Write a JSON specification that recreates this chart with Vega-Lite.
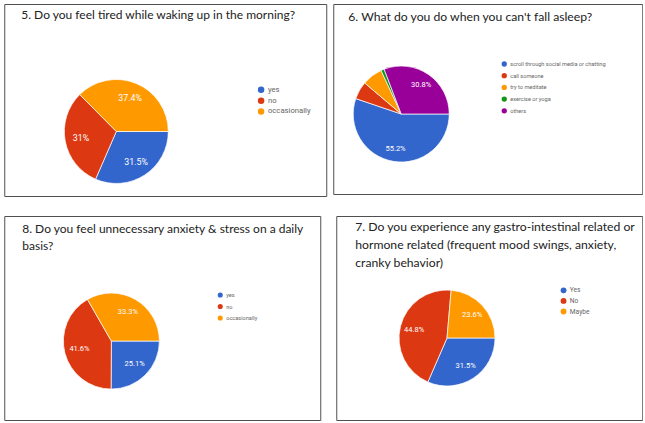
{
  "$schema": "https://vega.github.io/schema/vega-lite/v6.json",
  "background": "white",
  "padding": {"left": 3, "top": 3, "right": 0, "bottom": 0},
  "config": {
    "view": {"stroke": "#505050", "strokeWidth": 1},
    "title": {"anchor": "start", "frame": "group", "font": "Lato", "fontSize": 12, "fontWeight": "normal", "color": "#222222", "baseline": "alphabetic"},
    "legend": {"orient": "none", "title": null, "padding": 0, "symbolType": "circle", "symbolSize": 40, "symbolStrokeWidth": 0, "labelFont": "Roboto", "labelFontSize": 6.5, "labelColor": "#666666", "labelOffset": 3},
    "text": {"font": "Roboto", "fontSize": 7.5}
  },
  "vconcat": [
    {
      "hconcat": [
        {
          "width": 322, "height": 192,
          "title": {"text": "5. Do you feel  tired while waking up in the morning?", "offset": -18, "dx": 17},
          "data": {"values": [
            {"answer": "yes", "pct": 31.5, "k": 1},
            {"answer": "no", "pct": 31, "k": 2},
            {"answer": "occasionally", "pct": 37.4, "k": 3}
          ]},
          "transform": [{"calculate": "datum.pct + '%'", "as": "label"}],
          "encoding": {
            "x": {"datum": 0.348, "type": "quantitative", "scale": {"domain": [0, 1]}, "axis": null},
            "y": {"datum": 0.664, "type": "quantitative", "scale": {"domain": [0, 1], "reverse": true}, "axis": null},
            "theta": {"field": "pct", "type": "quantitative", "stack": true, "scale": {"range": [1.5708, 7.854]}},
            "order": {"field": "k", "type": "ordinal"}
          },
          "layer": [
            {"mark": {"type": "arc", "outerRadius": 52, "stroke": "white", "strokeWidth": 0.7},
             "encoding": {"color": {"field": "answer", "type": "nominal", "scale": {"domain": ["yes", "no", "occasionally"], "range": ["#3366cc", "#dc3912", "#ff9900"]}, "legend": {"legendX": 253, "legendY": 82, "rowPadding": 1.8, "labelFontSize": 7.7, "symbolSize": 42}}}},
            {"mark": {"type": "text", "radius": 36, "fill": "white", "fontSize": 8.8},
             "encoding": {"detail": {"field": "answer"}, "text": {"field": "label"}}}
          ]
        },
        {
          "width": 309, "height": 190,
          "title": {"text": "6. What do you do when  you can't fall asleep?", "offset": -19, "dx": 15, "fontSize": 12.2},
          "data": {"values": [
            {"answer": "scroll through social media or chatting", "pct": 55.2, "k": 1},
            {"answer": "call someone", "pct": 6.0, "k": 2},
            {"answer": "try to meditate", "pct": 6.9, "k": 3},
            {"answer": "exercise or yoga", "pct": 1.1, "k": 4},
            {"answer": "others", "pct": 30.8, "k": 5}
          ]},
          "transform": [{"calculate": "datum.pct + '%'", "as": "label"}],
          "encoding": {
            "x": {"datum": 0.22, "type": "quantitative", "scale": {"domain": [0, 1]}, "axis": null},
            "y": {"datum": 0.579, "type": "quantitative", "scale": {"domain": [0, 1], "reverse": true}, "axis": null},
            "theta": {"field": "pct", "type": "quantitative", "stack": true, "scale": {"range": [1.5708, 7.854]}},
            "order": {"field": "k", "type": "ordinal"}
          },
          "layer": [
            {"mark": {"type": "arc", "outerRadius": 48, "stroke": "white", "strokeWidth": 0.7},
             "encoding": {"color": {"field": "answer", "type": "nominal", "scale": {"domain": ["scroll through social media or chatting", "call someone", "try to meditate", "exercise or yoga", "others"], "range": ["#3366cc", "#dc3912", "#ff9900", "#109618", "#990099"]}, "legend": {"legendX": 168, "legendY": 57, "rowPadding": 4.7, "labelFontSize": 5.6, "symbolSize": 28}}}},
            {"mark": {"type": "text", "radius": 35, "fill": "white"},
             "encoding": {"detail": {"field": "answer"}, "text": {"condition": {"test": "datum.pct > 10", "field": "label"}, "value": ""}}}
          ]
        }
      ],
      "spacing": 5,
      "resolve": {"scale": {"color": "independent", "theta": "independent", "x": "independent", "y": "independent"}, "legend": {"color": "independent"}}
    },
    {
      "hconcat": [
        {
          "width": 316, "height": 204,
          "title": {"text": ["8. Do you feel unnecessary anxiety & stress on a daily", "basis?"], "offset": -37.3, "dx": 18, "lineHeight": 17.6},
          "data": {"values": [
            {"answer": "yes", "pct": 25.1, "k": 1},
            {"answer": "no", "pct": 41.6, "k": 2},
            {"answer": "occasionally", "pct": 33.3, "k": 3}
          ]},
          "transform": [{"calculate": "datum.pct + '%'", "as": "label"}],
          "encoding": {
            "x": {"datum": 0.339, "type": "quantitative", "scale": {"domain": [0, 1]}, "axis": null},
            "y": {"datum": 0.613, "type": "quantitative", "scale": {"domain": [0, 1], "reverse": true}, "axis": null},
            "theta": {"field": "pct", "type": "quantitative", "stack": true, "scale": {"range": [1.5708, 7.854]}},
            "order": {"field": "k", "type": "ordinal"}
          },
          "layer": [
            {"mark": {"type": "arc", "outerRadius": 48, "stroke": "white", "strokeWidth": 0.7},
             "encoding": {"color": {"field": "answer", "type": "nominal", "scale": {"domain": ["yes", "no", "occasionally"], "range": ["#3366cc", "#dc3912", "#ff9900"]}, "legend": {"legendX": 213, "legendY": 76, "rowPadding": 4.5, "labelFontSize": 5.6, "symbolSize": 26}}}},
            {"mark": {"type": "text", "radius": 33, "fill": "white"},
             "encoding": {"detail": {"field": "answer"}, "text": {"field": "label"}}}
          ]
        },
        {
          "width": 306, "height": 204,
          "title": {"text": ["7. Do you experience any gastro-intestinal related or", "hormone related (frequent mood swings, anxiety,", "cranky behavior)"], "offset": -53.3, "dx": 19, "lineHeight": 18, "fontSize": 12.2},
          "data": {"values": [
            {"answer": "Yes", "pct": 31.5, "k": 1},
            {"answer": "No", "pct": 44.8, "k": 2},
            {"answer": "Maybe", "pct": 23.6, "k": 3}
          ]},
          "transform": [{"calculate": "datum.pct + '%'", "as": "label"}],
          "encoding": {
            "x": {"datum": 0.362, "type": "quantitative", "scale": {"domain": [0, 1]}, "axis": null},
            "y": {"datum": 0.598, "type": "quantitative", "scale": {"domain": [0, 1], "reverse": true}, "axis": null},
            "theta": {"field": "pct", "type": "quantitative", "stack": true, "scale": {"range": [1.5708, 7.854]}},
            "order": {"field": "k", "type": "ordinal"}
          },
          "layer": [
            {"mark": {"type": "arc", "outerRadius": 48, "stroke": "white", "strokeWidth": 0.7},
             "encoding": {"color": {"field": "answer", "type": "nominal", "scale": {"domain": ["Yes", "No", "Maybe"], "range": ["#3366cc", "#dc3912", "#ff9900"]}, "legend": {"legendX": 224, "legendY": 71, "rowPadding": 3.6, "labelFontSize": 6.6, "symbolSize": 34}}}},
            {"mark": {"type": "text", "radius": 34, "fill": "white"},
             "encoding": {"detail": {"field": "answer"}, "text": {"field": "label"}}}
          ]
        }
      ],
      "spacing": 14,
      "resolve": {"scale": {"color": "independent", "theta": "independent", "x": "independent", "y": "independent"}, "legend": {"color": "independent"}}
    }
  ],
  "spacing": 18,
  "center": true,
  "resolve": {"scale": {"color": "independent", "theta": "independent", "x": "independent", "y": "independent"}, "legend": {"color": "independent"}}
}
